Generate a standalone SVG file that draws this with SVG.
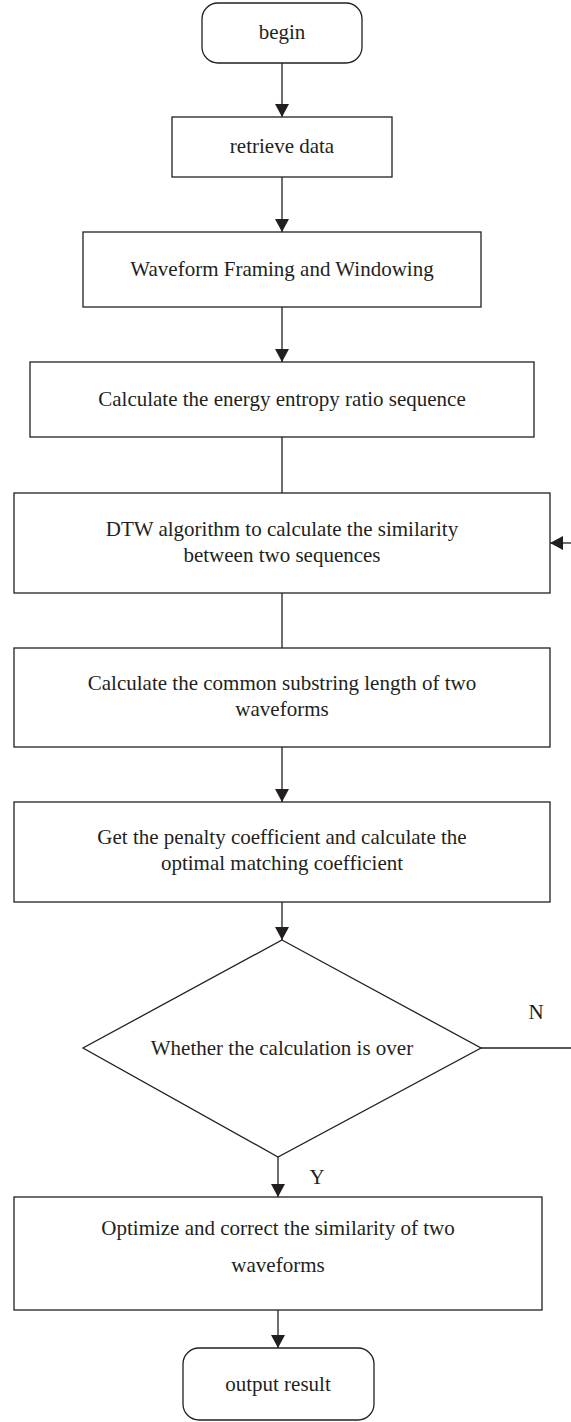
<svg xmlns="http://www.w3.org/2000/svg" width="571" height="1422" viewBox="0 0 571 1422">
<style>
.box{fill:#fff;stroke:#231f20;stroke-width:1.3}
.ln{fill:none;stroke:#231f20;stroke-width:1.3}
.t{font-family:"Liberation Serif","Times New Roman",serif;font-size:21px;fill:#231f20;text-anchor:middle}
</style>
<defs>
<marker id="ah" viewBox="0 0 13 14" refX="13" refY="7" markerWidth="13" markerHeight="14" markerUnits="userSpaceOnUse" orient="auto">
<path d="M0,0 L13,7 L0,14 z" fill="#231f20"/>
</marker>
</defs>
<rect width="571" height="1422" fill="#fff"/>
<g id="connectors">
<line class="ln" x1="282" y1="63" x2="282" y2="117" marker-end="url(#ah)"/>
<line class="ln" x1="282" y1="177" x2="282" y2="232" marker-end="url(#ah)"/>
<line class="ln" x1="282" y1="307" x2="282" y2="362" marker-end="url(#ah)"/>
<line class="ln" x1="282" y1="437" x2="282" y2="493"/>
<line class="ln" x1="282" y1="593" x2="282" y2="648"/>
<line class="ln" x1="282" y1="747" x2="282" y2="802" marker-end="url(#ah)"/>
<line class="ln" x1="282" y1="902" x2="282" y2="940" marker-end="url(#ah)"/>
<line class="ln" x1="278" y1="1157" x2="278" y2="1197" marker-end="url(#ah)"/>
<line class="ln" x1="278" y1="1310" x2="278" y2="1348" marker-end="url(#ah)"/>
<line class="ln" x1="481" y1="1048" x2="571" y2="1048"/>
<line class="ln" x1="571" y1="543" x2="550" y2="543" marker-end="url(#ah)"/>
<text class="t" x="536" y="1019">N</text>
<text class="t" x="317" y="1184">Y</text>
</g>
<g id="begin">
<rect class="box" x="202" y="3" width="160" height="60" rx="16"/>
<text class="t" x="282" y="39">begin</text>
</g>
<g id="retrieve">
<rect class="box" x="172" y="117" width="220" height="60"/>
<text class="t" x="282" y="153">retrieve data</text>
</g>
<g id="framing">
<rect class="box" x="83" y="232" width="398" height="75"/>
<text class="t" x="282" y="276">Waveform Framing and Windowing</text>
</g>
<g id="energy">
<rect class="box" x="30" y="362" width="504" height="75"/>
<text class="t" x="282" y="406">Calculate the energy entropy ratio sequence</text>
</g>
<g id="dtw">
<rect class="box" x="14" y="493" width="536" height="100"/>
<text class="t" x="282" y="536">DTW algorithm to calculate the similarity</text>
<text class="t" x="282" y="562">between two sequences</text>
</g>
<g id="substring">
<rect class="box" x="14" y="648" width="536" height="99"/>
<text class="t" x="282" y="690">Calculate the common substring length of two</text>
<text class="t" x="282" y="716">waveforms</text>
</g>
<g id="penalty">
<rect class="box" x="14" y="802" width="536" height="100"/>
<text class="t" x="282" y="844">Get the penalty coefficient and calculate the</text>
<text class="t" x="282" y="870">optimal matching coefficient</text>
</g>
<g id="decision">
<polygon class="box" points="282,940 481,1048 278,1157 83,1048"/>
<text class="t" x="282" y="1055">Whether the calculation is over</text>
</g>
<g id="optimize">
<rect class="box" x="14" y="1197" width="528" height="113"/>
<text class="t" x="278" y="1235">Optimize and correct the similarity of two</text>
<text class="t" x="278" y="1272">waveforms</text>
</g>
<g id="output">
<rect class="box" x="183" y="1348" width="191" height="72" rx="16"/>
<text class="t" x="278" y="1391">output result</text>
</g>
</svg>
